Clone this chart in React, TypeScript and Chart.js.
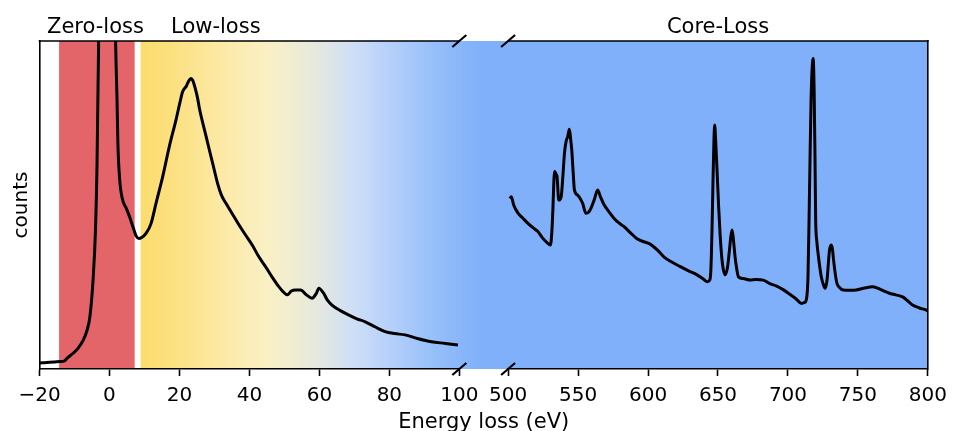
import { useEffect, useRef } from 'react';
import { Chart, registerables } from 'chart.js';

Chart.register(...registerables);

// Low-loss spectrum (eV, counts in arbitrary units)
const lowLossEnergy = [
  -20, -18, -16, -14, -13, -12, -10.4, -9, -7.5, -6.5, -5.6, -4.7, -4.0, -3.55, -3.1, -2.5, -1.5, -0.7,
  0.2, 1.2, 1.76, 2.14, 2.4, 2.9, 3.66, 4.8, 5.75, 6.7, 7.65, 8.4, 9.1, 10.5, 11.9, 13.3, 15.2, 17.1,
  19.0, 20.2, 20.9, 22.0, 22.5, 23.3, 23.8, 24.4, 25.2, 25.7, 27.6, 28.5, 29.5, 30.9, 32.0, 33.3, 35.0,
  37.0, 38.8, 40.8, 42.7, 44.6, 46.5, 48.4, 49.6, 50.8, 52.0, 53.2, 54.6, 56.3, 57.9, 59.2, 59.8, 61.2,
  62.3, 63.6, 66.0, 68.3, 70.7, 73.1, 76.0, 78.8, 81.5, 84.5, 88.0, 92.0, 96.0, 99.6,
];
const lowLossCounts = [
  1.8, 2.0, 2.1, 2.3, 2.4, 3.4, 4.8, 6.3, 8.8, 11.5, 15.9, 27, 42.4, 62.8, 99.8, 160, 260, 300,
  260, 150, 99.8, 83, 69, 58, 52, 49, 46.4, 43.4, 40.5, 39.8, 40, 41.4, 44.4, 50.5, 58.6, 67.8,
  75.9, 81.5, 84.5, 86.3, 87.5, 88.6, 88, 86, 82.5, 79.5, 71, 67, 62.7, 56.6, 53, 50.5, 47.5,
  44, 41, 37.8, 34.2, 31.2, 28, 25.1, 23.6, 22.6, 23.8, 24.1, 24.1, 22.6, 21.6, 23.2, 24.6, 23.1,
  21.0, 19.5, 17.8, 16.5, 15.3, 14.4, 12.8, 11.4, 10.8, 10.4, 9.3, 8.3, 7.8, 7.3,
];

// Core-loss spectrum (eV, counts in arbitrary units)
const coreLossEnergy = [
  501.2, 502.3, 504, 507.1, 510.5, 514.2, 518, 521.3, 524, 527.2, 530.3, 531.3, 532, 532.8, 533.2,
  534.2, 535, 536.2, 537.9, 539.2, 540.3, 541.5, 542.6, 543.8, 544.6, 545.5, 546.5, 547.4, 549.7,
  551.5, 553.3, 555.6, 557.5, 559.2, 561.5, 564, 566, 568.7, 572, 575.8, 579, 582.9, 587.5, 592.4,
  597, 601.8, 606.6, 611.3, 617, 623.1, 629, 635, 639, 642.6, 644.2, 644.9, 645.7, 646.4, 647.0,
  647.6, 648.3, 649.2, 650.4, 651.6, 653.2, 655.1, 656.8, 658.2, 659.2, 660.1, 661.0, 662.2, 663.4,
  664.6, 668, 672.9, 677, 682.4, 687, 691.9, 696.5, 701.3, 705.5, 709.6, 711.6, 713.2, 714.3, 715.1,
  715.8, 716.5, 717.2, 718.0, 718.7, 719.3, 719.8, 720.6, 721.5, 723.8, 725.5, 726.7, 728, 729.0,
  729.7, 730.9, 731.8, 732.6, 733.8, 735.0, 737, 739.3, 744, 748.7, 754, 760.6, 766, 772.4, 777,
  781.9, 785.5, 789.0, 794, 798.5, 800,
];
const coreLossCounts = [
  52, 52.5, 50, 47.5, 46, 44.4, 43, 41.9, 40.3, 38.8, 37.8, 42, 48.5, 58, 60.2,
  59.5, 58.6, 51.5, 52.5, 59, 65.8, 69.5, 70.8, 73.1, 70.5, 66.8, 60, 54.6, 53,
  52, 50.5, 47.5, 47.8, 49, 51.5, 54.6, 52.5, 50, 48, 45.9, 44.6, 43.4, 41.5, 39.6,
  38.8, 38, 36.3, 34.2, 32.6, 31.2, 29.9, 28.7, 27.6, 26.6, 27.2, 30.2, 42, 56.6, 68,
  74.4, 70, 61.7, 50, 40.3, 32, 28.7, 31, 36.3, 40.5, 42.4, 39.5, 34.2, 30.5,
  28.1, 27.6, 27.1, 27.3, 27.1, 26, 25.3, 24.2, 22.8, 21.5, 20, 20.2, 21.3, 28, 46.4,
  65, 82, 91, 94.7, 85, 65, 45.4, 39, 35.3, 28.1, 25.5, 24.6, 27.5, 33,
  36.3, 37.8, 36.5, 33.2, 29, 26.1, 24.8, 24.1, 24, 24.1, 24.6, 25.1, 24.3, 23.1, 22.6,
  22, 20.8, 19.5, 18.6, 18, 17.7,
];

const lowLossTicks = [-20, 0, 20, 40, 60, 80, 100];
const coreLossTicks = [500, 550, 600, 650, 700, 750, 800];

// Energy ranges of the shaded regions (eV)
const zeroLossBand = [-14.4, 7.2];

// Region captions above the plot and the energy they are centred on
const regionLabels = ['Zero-loss', 'Low-loss', 'Core-Loss'];
const regionLabelEnergy = [-4, 30.4, 650];
const regionLabelAxis = ['xLow', 'xLow', 'xCore'];

const xTitle = 'Energy loss (eV)';
const yTitle = 'counts';

const FONT = '"DejaVu Sans", "Liberation Sans", sans-serif';
const RED = 'rgb(227, 101, 105)';
const BLUE = 'rgb(128, 176, 250)';
// Yellow to blue fade across the low-loss window and the axis break
const fadeStops: [number, string][] = [
  [8.9, 'rgb(252, 220, 108)'],
  [17, 'rgb(252, 224, 126)'],
  [30, 'rgb(252, 232, 160)'],
  [45, 'rgb(250, 240, 196)'],
  [55, 'rgb(236, 235, 214)'],
  [62, 'rgb(224, 230, 228)'],
  [70, 'rgb(206, 222, 247)'],
  [80, 'rgb(182, 208, 250)'],
  [92, 'rgb(152, 192, 250)'],
  [106, BLUE],
];

const minus = (v: number) => (v < 0 ? '\u2212' + Math.abs(v) : String(v));

const regions = {
  id: 'regions',
  beforeDraw(chart: any) {
    const { ctx, chartArea } = chart;
    const { top, bottom, right } = chartArea;
    const lo = chart.scales.xLow;
    const core = chart.scales.xCore;
    const h = bottom - top;
    ctx.save();
    const r0 = lo.getPixelForValue(zeroLossBand[0]);
    const r1 = lo.getPixelForValue(zeroLossBand[1]);
    ctx.fillStyle = RED;
    ctx.fillRect(r0, top, r1 - r0, h);

    const g0 = lo.getPixelForValue(fadeStops[0][0]);
    const g1 = lo.getPixelForValue(fadeStops[fadeStops.length - 1][0]);
    const grad = ctx.createLinearGradient(g0, 0, g1, 0);
    fadeStops.forEach(([e, c]) => grad.addColorStop((lo.getPixelForValue(e) - g0) / (g1 - g0), c));
    ctx.fillStyle = grad;
    ctx.fillRect(g0, top, g1 - g0, h);
    ctx.fillStyle = BLUE;
    ctx.fillRect(g1 - 1, top, right - g1 + 1, h);
    ctx.restore();
  },
  afterDraw(chart: any) {
    const { ctx, chartArea } = chart;
    const { top, bottom, left, right } = chartArea;
    const lo = chart.scales.xLow;
    const core = chart.scales.xCore;
    const breakL = lo.getPixelForValue(lo.max);
    const breakR = core.getPixelForValue(core.min);
    ctx.save();
    ctx.strokeStyle = '#000';
    ctx.lineWidth = 1.6;
    ctx.beginPath();
    ctx.moveTo(left - 0.8, top);
    ctx.lineTo(breakL, top);
    ctx.moveTo(breakR, top);
    ctx.lineTo(right + 0.8, top);
    ctx.stroke();

    // diagonal break marks
    ctx.lineWidth = 2.2;
    ctx.beginPath();
    for (const x of [breakL, breakR]) {
      for (const y of [top, bottom]) {
        ctx.moveTo(x - 7, y + 6);
        ctx.lineTo(x + 7, y - 6);
      }
    }
    ctx.stroke();

    ctx.fillStyle = '#000';
    ctx.font = `21px ${FONT}`;
    ctx.textAlign = 'center';
    ctx.textBaseline = 'alphabetic';
    regionLabels.forEach((t, i) => {
      const sc = chart.scales[regionLabelAxis[i]];
      ctx.fillText(t, sc.getPixelForValue(regionLabelEnergy[i]), top - 8);
    });
    // shared energy-axis title, centred on the break
    ctx.fillText(xTitle, (breakL + breakR) / 2, bottom + 59);
    ctx.restore();
  },
};

export default function App() {
  const canvasRef = useRef<HTMLCanvasElement | null>(null);

  useEffect(() => {
    const canvas = canvasRef.current;
    if (!canvas) return;

    const tickFont = { family: FONT, size: 20 };
    const axisBorder = { display: true, color: '#000', width: 1.6 };
    const tickGrid = {
      display: true,
      drawOnChartArea: false,
      drawTicks: true,
      tickLength: 7,
      tickWidth: 1.6,
      tickColor: '#000',
      color: '#000',
    };

    const chart = new Chart(canvas, {
      type: 'line',
      data: {
        datasets: [
          {
            label: 'Low-loss',
            data: lowLossEnergy.map((x, i) => ({ x, y: lowLossCounts[i] })),
            xAxisID: 'xLow',
            yAxisID: 'y',
            borderColor: '#000',
            borderWidth: 3,
            pointRadius: 0,
            cubicInterpolationMode: 'monotone',
          },
          {
            label: 'Core-loss',
            data: coreLossEnergy.map((x, i) => ({ x, y: coreLossCounts[i] })),
            xAxisID: 'xCore',
            yAxisID: 'y',
            borderColor: '#000',
            borderWidth: 3,
            pointRadius: 0,
            cubicInterpolationMode: 'monotone',
          },
        ],
      },
      options: {
        responsive: false,
        animation: false,
        devicePixelRatio: 1,
        layout: { padding: { left: 0, right: 0, top: 41, bottom: 0 } },
        plugins: { legend: { display: false }, tooltip: { enabled: false } },
        scales: {
          xLow: {
            type: 'linear',
            position: 'bottom',
            stack: 'energy',
            stackWeight: 422,
            weight: 0,
            min: -20,
            max: 100,
            afterBuildTicks: (s: any) => {
              s.ticks = lowLossTicks.map((value) => ({ value }));
            },
            afterFit: (s: any) => {
              s.height = 62;
            },
            ticks: {
              autoSkip: false,
              maxRotation: 0,
              color: '#000',
              font: tickFont,
              padding: 8,
              callback: (v: any) => minus(Number(v)),
            },
            grid: tickGrid,
            border: axisBorder,
          },
          xGap: {
            type: 'linear',
            position: 'bottom',
            stack: 'energy',
            stackWeight: 49,
            weight: 1,
            min: 0,
            max: 1,
            afterFit: (s: any) => {
              s.height = 62;
            },
            ticks: { display: false },
            grid: { display: false },
            border: { display: false },
          },
          xCore: {
            type: 'linear',
            position: 'bottom',
            stack: 'energy',
            stackWeight: 422,
            weight: 2,
            min: 500,
            max: 800,
            afterBuildTicks: (s: any) => {
              s.ticks = coreLossTicks.map((value) => ({ value }));
            },
            afterFit: (s: any) => {
              s.height = 62;
            },
            ticks: {
              autoSkip: false,
              maxRotation: 0,
              color: '#000',
              font: tickFont,
              padding: 8,
            },
            grid: tickGrid,
            border: axisBorder,
          },
          y: {
            type: 'linear',
            position: 'left',
            min: 0,
            max: 100,
            afterFit: (s: any) => {
              s.width = 39.5;
            },
            ticks: { display: false },
            grid: { display: false },
            border: axisBorder,
            title: {
              display: true,
              text: yTitle,
              color: '#000',
              font: { family: FONT, size: 20, lineHeight: 1.2 },
              padding: { top: 10, bottom: 0 },
            },
          },
          yRight: {
            type: 'linear',
            position: 'right',
            afterFit: (s: any) => {
              s.width = 22.5;
            },
            ticks: { display: false },
            grid: { display: false },
            border: axisBorder,
          },
        },
      } as any,
      plugins: [regions],
    });

    return () => chart.destroy();
  }, []);

  return (
    <div style={{ position: 'absolute', left: 0, top: 0, width: 955, height: 431, background: '#fff' }}>
      <canvas ref={canvasRef} width={955} height={431} style={{ display: 'block' }} />
    </div>
  );
}
